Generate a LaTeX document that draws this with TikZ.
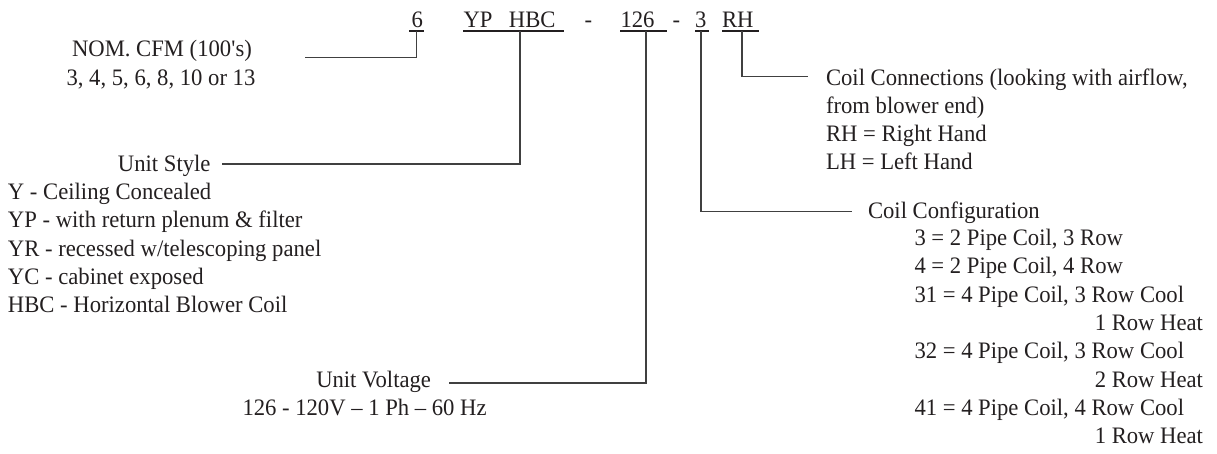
\documentclass[tikz,border=0pt]{standalone}
\usepackage{fontspec}
\setmainfont{Liberation Serif}[FakeStretch=0.96]
\usetikzlibrary{calc}
\definecolor{ink}{HTML}{231F20}
\definecolor{wire}{HTML}{404040}
\begin{document}
\begin{tikzpicture}[x=1pt,y=-1pt]
\tikzset{
  txt/.style={anchor=base west, inner sep=0pt, outer sep=0pt, text=ink, font=\fontsize{23.6}{28.3}\selectfont},
  txtr/.style={txt, anchor=base east},
  txtc/.style={txt, anchor=base},
  ln/.style={draw=wire, line width=1.3pt},
  uline/.style={draw=ink, line width=1.1pt}
}
\useasboundingbox (0,0) rectangle (1217,453);

% header code
\node[txt] (c6)  at (411.5,27) {6};
\node[txt] (cyp) at (463.5,27) {YP\hspace{16.5pt}HBC};
\node[txt] (d1)  at (584.5,27) {-};
\node[txt] (c126) at (620.5,27) {126};
\node[txt] (d2)  at (672.5,27) {-};
\node[txt] (c3)  at (695,27) {3};
\node[txt] (crh) at (722,27) {RH};

% underlines
\draw[uline] (409,31) -- (424,31);
\draw[uline] (463,31) -- (564,31);
\draw[uline] (620,31) -- (667,31);
\draw[uline] (695,31) -- (709,31);
\draw[uline] (722,31) -- (759,31);

% NOM CFM
\node[txtc] (nom1) at (162,56.7) {NOM. CFM (100\textquotesingle s)};
\node[txtc] (nom2) at (161,85) {3, 4, 5, 6, 8, 10 or 13};

% Unit style
\node[txtr] (us) at (210.5,171.7) {Unit Style};
\node[txt] (us1) at (8,199.5) {Y - Ceiling Concealed};
\node[txt] (us2) at (8,227.8) {YP - with return plenum \& filter};
\node[txt] (us3) at (8,256.1) {YR - recessed w/telescoping panel};
\node[txt] (us4) at (8,284.4) {YC - cabinet exposed};
\node[txt] (us5) at (8,312.7) {HBC - Horizontal Blower Coil};

% Unit voltage
\node[txtr] (uv) at (431,387) {Unit Voltage};
\node[txt] (uv1) at (242.5,415.3) {126 - 120V -- 1 Ph -- 60 Hz};

% Coil connections
\node[txt] (cn1) at (826,85) {Coil Connections (looking with airflow,};
\node[txt] (cn2) at (826,113.3) {from blower end)};
\node[txt] (cn3) at (826,141.6) {RH = Right Hand};
\node[txt] (cn4) at (826,169.9) {LH = Left Hand};

% Coil configuration
\node[txt] (cc) at (868,218.3) {Coil Configuration};
\node[txt] (cc1) at (914.5,245.5) {3 = 2 Pipe Coil, 3 Row};
\node[txt] (cc2) at (914.5,273.8) {4 = 2 Pipe Coil, 4 Row};
\node[txt] (cc3) at (914.5,302.1) {31 = 4 Pipe Coil, 3 Row Cool};
\node[txtr] (cc4) at (1203,330.4) {1 Row Heat};
\node[txt] (cc5) at (914.5,358.7) {32 = 4 Pipe Coil, 3 Row Cool};
\node[txtr] (cc6) at (1203,387) {2 Row Heat};
\node[txt] (cc7) at (914.5,415.3) {41 = 4 Pipe Coil, 4 Row Cool};
\node[txtr] (cc8) at (1203,443.6) {1 Row Heat};

% free ends of leaders
\coordinate (e6) at (305,57.7);
\coordinate (eus) at (222,164);
\coordinate (euv) at (449,383);
\coordinate (ecc) at (852,211.7);
\coordinate (ecn) at (808,76.7);

% leaders
\draw[ln] ($(c6.base west)+(5.2,4)$) |- (e6);
\draw[ln] ($(cyp.base west)+(56.5,4)$) |- (eus);
\draw[ln] ($(c126.base west)+(25.5,4)$) |- (euv);
\draw[ln] ($(c3.base west)+(6,4)$) |- (ecc);
\draw[ln] ($(crh.base west)+(20,4)$) |- (ecn);
\end{tikzpicture}
\end{document}
